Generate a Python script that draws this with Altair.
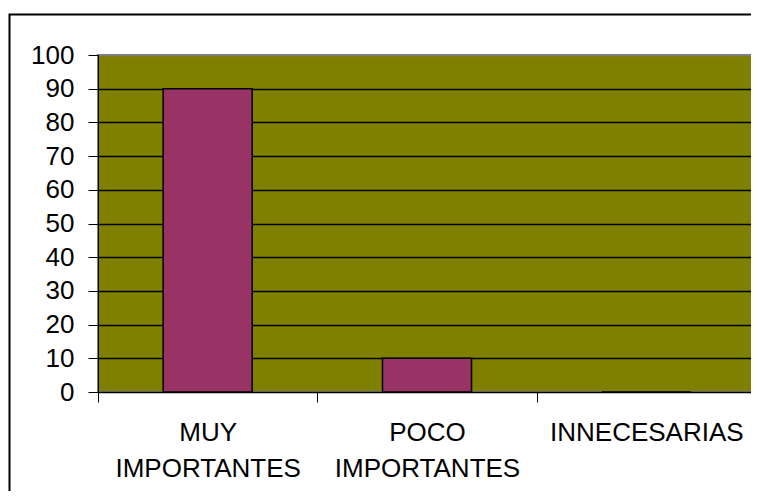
import altair as alt
import pandas as pd

categories = ["MUY IMPORTANTES", "POCO IMPORTANTES", "INNECESARIAS"]
values = [90, 10, 0]
y_ticks = [0, 10, 20, 30, 40, 50, 60, 70, 80, 90, 100]

df = pd.DataFrame({"cat": categories, "val": values})

FONT = "Liberation Sans"

bars = alt.Chart(df).mark_bar(
    color="#993366", stroke="black", strokeWidth=1.5,
    width=alt.RelativeBandSize(0.406)
).encode(
    x=alt.X("cat:N", sort=categories, title=None,
            scale=alt.Scale(paddingInner=0, paddingOuter=0),
            axis=alt.Axis(labelAngle=0, tickBand="extent", tickSize=10,
                          tickColor="black", domainColor="black",
                          domainWidth=1, tickWidth=1,
                          labelExpr="split(datum.label, ' ')",
                          labelLineHeight=36, labelPadding=17, labelLimit=0,
                          labelBaseline="top", labelFontSize=26,
                          labelFont=FONT, labelColor="black", grid=False)),
    y=alt.Y("val:Q", title=None,
            scale=alt.Scale(domain=[0, 100], nice=False),
            axis=alt.Axis(values=y_ticks, tickSize=10, tickColor="black",
                          domainColor="black", domainWidth=1, tickWidth=1,
                          labelPadding=14, labelFontSize=26, labelFont=FONT,
                          labelColor="black", grid=True,
                          gridColor={"condition": {"test": "datum.value == 100", "value": "#808080"}, "value": "black"},
                          gridWidth=1.5, gridOpacity=1)),
)

border = alt.Chart(pd.DataFrame({"a": [0]})).mark_rect(
    fill=None, stroke="black", strokeWidth=2
).encode(
    x=alt.value(-88.5), y=alt.value(-40.5),
    x2=alt.value(900), y2=alt.value(700)
)

chart = alt.layer(bars, border).properties(
    width=658, height=337,
    autosize=alt.AutoSizeParams(type="none"),
    padding={"left": 90, "top": 47, "right": -5, "bottom": 99},
    background="white"
).configure_view(
    fill="#808000", stroke="#808080", strokeWidth=2
)

chart.save("out.html", embed_options={"renderer": "svg", "actions": False})
